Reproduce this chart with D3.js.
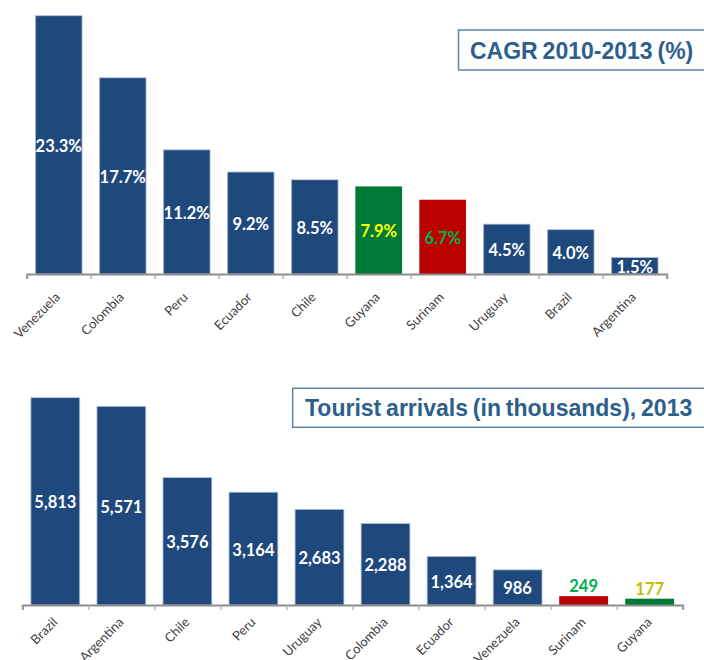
<!DOCTYPE html>
<html>
<head>
<meta charset="utf-8">
<script src="https://cdn.jsdelivr.net/npm/d3@7"></script>
<style>
  html, body { margin: 0; padding: 0; background: #fff; }
  svg { display: block; }
</style>
</head>
<body>
<div id="output"></div>
<script>
// Top chart: CAGR 2010-2013 (%)
const cagrCountries = ["Venezuela", "Colombia", "Peru", "Ecuador", "Chile", "Guyana", "Surinam", "Uruguay", "Brazil", "Argentina"];
const cagrValues = [23.3, 17.7, 11.2, 9.2, 8.5, 7.9, 6.7, 4.5, 4.0, 1.5];

// Bottom chart: tourist arrivals (thousands), 2013
const arrivalCountries = ["Brazil", "Argentina", "Chile", "Peru", "Uruguay", "Colombia", "Ecuador", "Venezuela", "Surinam", "Guyana"];
const arrivalValues = [5813, 5571, 3576, 3164, 2683, 2288, 1364, 986, 249, 177];

const navy = "#1f497d";
// highlighted countries
const barColors = {Guyana: "#007a37", Surinam: "#bb0000"};
const cagrLabelColors = {Guyana: "#ffff00", Surinam: "#00b050"};
const arrivalLabelColors = {Surinam: "#00b050", Guyana: "#c0c000"};

function drawBars(svg, opts) {
  const n = opts.cats.length;
  const x = d3.scaleBand()
    .domain(opts.cats)
    .range(opts.xRange)
    .paddingInner(opts.pad)
    .paddingOuter(opts.pad / 2);

  const y = d3.scaleLinear()
    .domain([0, d3.max(opts.values)])
    .range(opts.yRange);

  const data = opts.cats.map((c, i) => ({cat: c, value: opts.values[i]}));

  // bars
  svg.append("g").selectAll("rect")
    .data(data)
    .enter().append("rect")
    .attr("x", d => x(d.cat))
    .attr("y", d => y(d.value))
    .attr("width", x.bandwidth())
    .attr("height", d => y(0) - y(d.value))
    .attr("fill", d => barColors[d.cat] || navy)
    .attr("stroke", d => barColors[d.cat] ? "none" : "#b9c6d8")
    .attr("stroke-width", 0.8);

  // value labels
  svg.append("g").selectAll("text")
    .data(data)
    .enter().append("text")
    .attr("x", d => x(d.cat) + x.bandwidth() / 2)
    .attr("y", d => opts.outside.includes(d.cat) ? y(d.value) - 4 : (y(d.value) + y(0)) / 2)
    .attr("dy", d => opts.outside.includes(d.cat) ? "0" : "0.42em")
    .attr("text-anchor", "middle")
    .style("font-family", "Lato, 'Open Sans', sans-serif")
    .style("font-weight", "bold")
    .style("font-size", "16.5px")
    .attr("fill", d => opts.labelColors[d.cat] || "#ffffff")
    .text(d => opts.format(d.value));

  // axis line with ticks at the band boundaries
  const edges = d3.scaleLinear().domain([0, n]).range(opts.xRange);
  const axisG = svg.append("g")
    .attr("transform", `translate(0,${y(0)})`)
    .call(d3.axisBottom(edges)
      .tickValues(d3.range(n + 1))
      .tickSize(5)
      .tickSizeOuter(5)
      .tickFormat(""));
  axisG.select(".domain").attr("stroke", "#8c8c8c").attr("stroke-width", 2.2);
  axisG.selectAll(".tick line").attr("stroke", "#a6a6a6").attr("stroke-width", 1.2);

  // category labels
  const labG = svg.append("g")
    .attr("transform", `translate(0,${y(0)})`)
    .call(d3.axisBottom(x).tickSize(0));
  labG.select(".domain").remove();
  labG.selectAll("text")
    .attr("y", 0)
    .attr("dy", 0)
    .attr("transform", `translate(${opts.labelDx},${opts.labelDy}) rotate(-45)`)
    .style("text-anchor", "end")
    .style("font-family", "Lato, 'Open Sans', sans-serif")
    .style("font-size", "13px")
    .attr("fill", "#404040");

  // title box
  svg.append("rect")
    .attr("x", opts.title.x)
    .attr("y", opts.title.y)
    .attr("width", 760 - opts.title.x)
    .attr("height", opts.title.h)
    .attr("fill", "#ffffff")
    .attr("stroke", "#5f84ab")
    .attr("stroke-width", 1.5);

  svg.append("text")
    .attr("x", opts.title.tx)
    .attr("y", opts.title.ty)
    .style("font-family", "'Liberation Sans', Arial, sans-serif")
    .style("font-weight", "bold")
    .style("font-size", "23px")
    .style("word-spacing", "-1.5px")
    .attr("fill", "#2c5f8c")
    .text(opts.title.text);
}

const svg = d3.select("#output").append("svg")
  .attr("width", 704)
  .attr("height", 660);

drawBars(svg, {
  cats: cagrCountries,
  values: cagrValues,
  xRange: [26.7, 666.7],
  yRange: [274, 15.7],
  pad: 0.27,
  outside: [],
  labelColors: cagrLabelColors,
  format: v => v.toFixed(1) + "%",
  labelDx: 2,
  labelDy: 24,
  title: {x: 458.5, y: 30, h: 40, tx: 470, ty: 58.5, text: "CAGR 2010-2013 (%)"}
});

drawBars(svg, {
  cats: arrivalCountries,
  values: arrivalValues,
  xRange: [22.3, 682.7],
  yRange: [605, 397.7],
  pad: 0.26,
  outside: ["Surinam", "Guyana"],
  labelColors: arrivalLabelColors,
  format: d3.format(","),
  labelDx: 3,
  labelDy: 18,
  title: {x: 292.7, y: 388.3, h: 39, tx: 305, ty: 415.7, text: "Tourist arrivals (in thousands), 2013"}
});
</script>
</body>
</html>
